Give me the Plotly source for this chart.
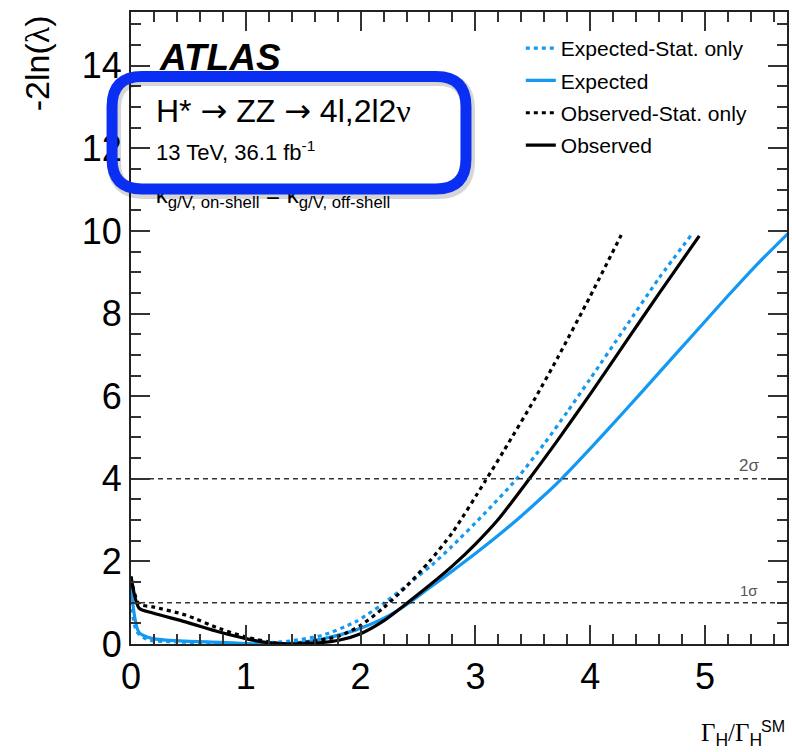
import plotly.graph_objects as go

# Likelihood scan of the off-shell Higgs width ratio
exp_stat_x = [0, 0.05, 0.15, 0.4, 0.8, 1.0, 1.2, 1.375, 1.665, 1.95, 2.2, 2.42, 2.62, 2.79, 3.08, 3.36, 3.6, 3.8, 4.0, 4.3, 4.6, 4.88]
exp_stat_y = [1.05, 0.30, 0.10, 0.05, 0.02, 0.01, 0.03, 0.07, 0.21, 0.53, 0.98, 1.46, 1.91, 2.35, 3.16, 4.00, 4.85, 5.62, 6.42, 7.64, 8.86, 9.90]

exp_x = [0, 0.07, 0.19, 0.475, 0.77, 1.0, 1.1, 1.375, 1.665, 1.95, 2.2, 2.4, 2.6, 2.8, 3.0, 3.2, 3.4, 3.6, 3.75, 4.0, 4.3, 4.6, 4.9, 5.2, 5.45, 5.72]
exp_y = [1.40, 0.28, 0.13, 0.07, 0.04, 0.01, 0.0, 0.01, 0.12, 0.33, 0.62, 0.95, 1.36, 1.77, 2.19, 2.63, 3.10, 3.60, 4.00, 4.73, 5.64, 6.57, 7.50, 8.43, 9.18, 9.93]

obs_stat_x = [0, 0.07, 0.19, 0.475, 0.77, 1.0, 1.2, 1.35, 1.5, 1.81, 2.0, 2.2, 2.4, 2.6, 2.8, 3.08, 3.25, 3.52, 3.72, 4.0, 4.27]
obs_stat_y = [1.60, 0.97, 0.90, 0.70, 0.375, 0.17, 0.05, 0.0, 0.03, 0.19, 0.45, 0.88, 1.40, 2.00, 2.70, 3.92, 4.69, 5.95, 6.95, 8.42, 9.90]

obs_x = [0, 0.07, 0.19, 0.475, 0.77, 1.0, 1.2, 1.4, 1.6, 1.81, 2.0, 2.2, 2.4, 2.6, 2.8, 3.0, 3.2, 3.47, 3.7, 4.0, 4.3, 4.6, 4.95]
obs_y = [1.64, 0.87, 0.75, 0.535, 0.29, 0.13, 0.03, 0.0, 0.02, 0.09, 0.25, 0.56, 0.98, 1.42, 1.89, 2.42, 3.02, 4.00, 4.87, 6.05, 7.27, 8.49, 9.88]

sigma_levels = [1, 4]
sigma_labels = ["1σ", "2σ"]

x_range = [0, 5.714]
y_range = [0, 15.3]

LIGHT_BLUE = "#1399f2"
FRAME_BLUE = "#0b2ef3"
SANS = "Liberation Sans"
SERIF = "Liberation Serif"

W, H = 792, 752
ML, MR, MT, MB = 131, 3, 12, 108
PW, PH = W - ML - MR, H - MT - MB


def px(xp):
    return (xp - ML) / PW


def py(yp):
    return (MT + PH - yp) / PH


fig = go.Figure()

series = [
    ("Expected-Stat. only", exp_stat_x, exp_stat_y, LIGHT_BLUE, "4px,4px"),
    ("Expected", exp_x, exp_y, LIGHT_BLUE, "solid"),
    ("Observed-Stat. only", obs_stat_x, obs_stat_y, "black", "4px,4px"),
    ("Observed", obs_x, obs_y, "black", "solid"),
]
for name, xs, ys, col, dash in series:
    fig.add_trace(go.Scatter(
        x=xs, y=ys, mode="lines", name=name, legendgroup=name,
        line=dict(color=col, width=3.2, dash=dash, shape="spline", smoothing=0.7),
        hoverinfo="skip",
    ))

# coupling assumption line (sits underneath the highlight frame)
fig.add_trace(go.Scatter(
    x=[0.215], y=[10.83], mode="text", showlegend=False, hoverinfo="skip",
    text=["κ<sub>g/V, on-shell</sub> = κ<sub>g/V, off-shell</sub>"],
    textposition="middle right",
    textfont=dict(family=SANS, size=24, color="black"),
))

shapes = []
for lvl in sigma_levels:
    shapes.append(dict(type="line", xref="paper", x0=0, x1=1, yref="y", y0=lvl, y1=lvl,
                       line=dict(color="#333333", width=1.6, dash="5px,4px"), layer="above"))


def rounded_rect(x0, y0, x1, y1, r):
    pts = [
        f"M{px(x0 + r)},{py(y0)}", f"L{px(x1 - r)},{py(y0)}",
        f"Q{px(x1)},{py(y0)} {px(x1)},{py(y0 + r)}", f"L{px(x1)},{py(y1 - r)}",
        f"Q{px(x1)},{py(y1)} {px(x1 - r)},{py(y1)}", f"L{px(x0 + r)},{py(y1)}",
        f"Q{px(x0)},{py(y1)} {px(x0)},{py(y1 - r)}", f"L{px(x0)},{py(y0 + r)}",
        f"Q{px(x0)},{py(y0)} {px(x0 + r)},{py(y0)}", "Z",
    ]
    return " ".join(pts)


# soft shadow, then the highlight frame around the process label
shapes.append(dict(type="path", xref="paper", yref="paper", layer="above",
                   path=rounded_rect(114, 79, 469, 192, 30),
                   line=dict(color="rgba(0,0,0,0.16)", width=14)))
shapes.append(dict(type="path", xref="paper", yref="paper", layer="above",
                   path=rounded_rect(112, 76.5, 467, 189, 30),
                   line=dict(color=FRAME_BLUE, width=11)))

ARROW = "<span style='font-family:DejaVu Sans'>→</span>"
annotations = [
    dict(text="<b><i>ATLAS</i></b>", x=px(157), y=py(57), xanchor="left", yanchor="middle",
         font=dict(family=SANS, size=37, color="black")),
    dict(text=f"H* {ARROW} ZZ {ARROW} 4l,2l2<span style='font-family:Liberation Serif'>ν</span>",
         x=px(154), y=py(110.5), xanchor="left", yanchor="middle",
         font=dict(family=SANS, size=32, color="black")),
    dict(text="13 TeV, 36.1 fb<sup>-1</sup>", x=px(154), y=py(151), xanchor="left", yanchor="middle",
         font=dict(family=SANS, size=22, color="black")),
    dict(text="-2ln(<span style='font-family:Liberation Serif'>λ</span>)", textangle=-90,
         x=px(37), y=py(13), xanchor="center", yanchor="top",
         font=dict(family=SANS, size=34, color="black")),
    dict(text="Γ<sub><span style='font-family:Liberation Sans'>H</span></sub>/Γ<sub><span style='font-family:Liberation Sans'>H</span></sub>",
         x=px(701), y=py(734), xanchor="left", yanchor="middle",
         font=dict(family=SERIF, size=25, color="black")),
    dict(text="SM", x=px(789), y=py(726), xanchor="right", yanchor="middle",
         font=dict(family=SANS, size=16, color="black")),
]
sig_sizes = [15, 17]
sig_offsets = [0.30, 0.33]
for lvl, lab, sz, off in zip(sigma_levels, sigma_labels, sig_sizes, sig_offsets):
    annotations.append(dict(text=lab, x=5.38, y=lvl + off, xref="x", yref="y",
                            xanchor="center", yanchor="middle", showarrow=False,
                            font=dict(family=SANS, size=sz, color="#555555")))
for a in annotations:
    a.setdefault("xref", "paper")
    a.setdefault("yref", "paper")
    a["showarrow"] = False

axis_common = dict(
    showgrid=False, zeroline=False, showline=True, linecolor="#222222", linewidth=2,
    mirror="allticks", ticks="inside", ticklen=19, tickwidth=1.5, tickcolor="#333333",
    tickfont=dict(family=SANS, size=36, color="black"),
)

fig.update_layout(
    width=W, height=H,
    margin=dict(l=ML, r=MR, t=MT, b=MB),
    paper_bgcolor="white", plot_bgcolor="white",
    xaxis=dict(range=x_range, dtick=1, tick0=0,
               minor=dict(dtick=0.2, ticks="inside", ticklen=10, tickwidth=1.5, tickcolor="#333333"),
               **axis_common),
    yaxis=dict(range=y_range, dtick=2, tick0=0,
               minor=dict(dtick=0.5, ticks="inside", ticklen=10, tickwidth=1.5, tickcolor="#333333"),
               **axis_common),
    legend=dict(x=px(522), y=py(28), xanchor="left", yanchor="top",
                font=dict(family=SANS, size=21, color="black"),
                bgcolor="rgba(0,0,0,0)", traceorder="grouped", tracegroupgap=2),
    shapes=shapes,
    annotations=annotations,
    showlegend=True,
)

fig.write_html("out.html")
